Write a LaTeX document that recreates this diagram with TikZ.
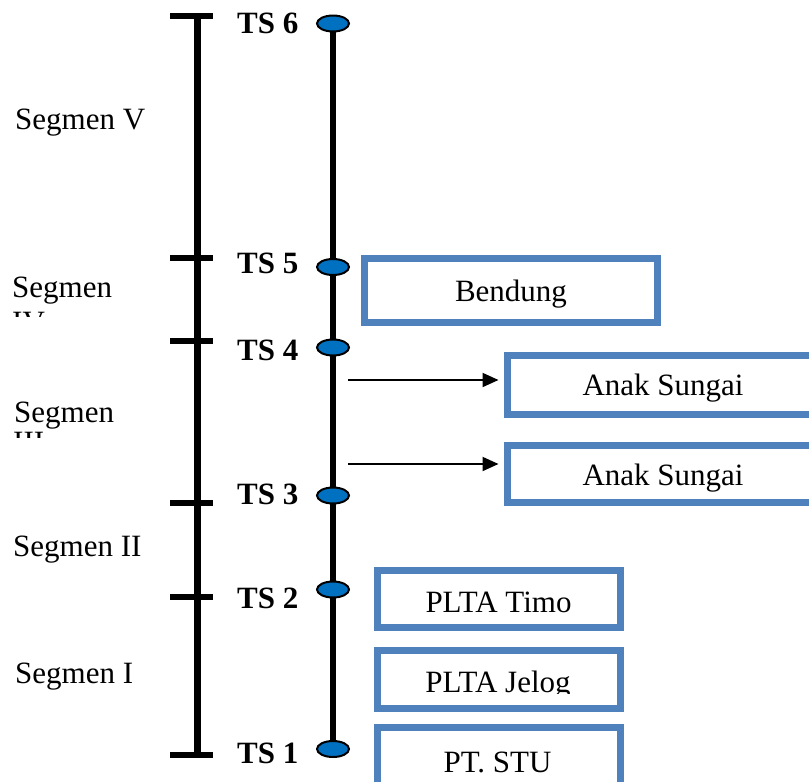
\documentclass[tikz,border=0pt]{standalone}
\usepackage{fontspec}
\setmainfont{Liberation Serif}
\usetikzlibrary{shapes.geometric,arrows.meta}
\definecolor{boxblue}{RGB}{79,129,189}
\definecolor{dotblue}{RGB}{0,112,192}
\begin{document}
\begin{tikzpicture}[x=1pt,y=-1pt,
  axisline/.style={line width=7pt},
  tickline/.style={line width=6pt},
  riverline/.style={line width=6pt},
  dot/.style={ellipse,draw=black,line width=2pt,fill=dotblue,minimum width=32pt,minimum height=16pt,inner sep=0pt},
  tslabel/.style={anchor=base west,font=\fontsize{31}{36}\selectfont\bfseries,inner sep=0pt},
  seglabel/.style={anchor=base west,font=\fontsize{31}{36}\selectfont,inner sep=0pt},
  boxtext/.style={anchor=base,font=\fontsize{31}{36}\selectfont,inner sep=0pt},
  infobox/.style={draw=boxblue,line width=7pt,inner sep=0pt,outer sep=0pt,rectangle},
  flow/.style={line width=2pt,-{Triangle[length=16pt,width=14pt]}}]
\useasboundingbox (0,0) rectangle (809,782);

% left segment axis
\coordinate (L6) at (197.5,15.5);
\coordinate (L5) at (197.5,258);
\coordinate (L4) at (197.5,340.5);
\coordinate (L3) at (197.5,503);
\coordinate (L2) at (197.5,597);
\coordinate (L1) at (197.5,754.5);
\coordinate (Ltop) at (197.5,13);
\coordinate (Lbot) at (197.5,757);
\draw[axisline] (Ltop) -- (Lbot);
\foreach \k in {1,...,6}{
  \draw[tickline] ([xshift=-27.5pt]L\k) -- ([xshift=15.5pt]L\k);
}

% river line with stations
\coordinate (R6) at (333,23.5);
\coordinate (R5) at (333,267);
\coordinate (R4) at (333,347.5);
\coordinate (R3) at (333,495.5);
\coordinate (R2) at (333,589.5);
\coordinate (R1) at (333,749);
\draw[riverline] (R6) -- (R1);
\foreach \k in {1,...,6}{
  \node[dot] (E\k) at (R\k) {};
}

% TS labels
\node[tslabel] (ts6) at (237,33) {TS 6};
\node[tslabel] (ts5) at (237,273) {TS 5};
\node[tslabel] (ts4) at (237,360) {TS 4};
\node[tslabel] (ts3) at (237,504) {TS 3};
\node[tslabel] (ts2) at (237,608) {TS 2};
\node[tslabel] (ts1) at (237,763) {TS 1};

% segment labels
\node[seglabel] (seg5) at (15,129) {Segmen V};
\node[seglabel] (seg4) at (12,297) {Segmen};
\begin{scope}
  \clip (0,309) rectangle (150,316);
  \node[seglabel] (seg4b) at (12,332) {IV};
\end{scope}
\node[seglabel] (seg3) at (14,422) {Segmen};
\begin{scope}
  \clip (0,430) rectangle (150,437);
  \node[seglabel] (seg3b) at (13,452.5) {III};
\end{scope}
\node[seglabel] (seg2) at (13,556) {Segmen II};
\node[seglabel] (seg1) at (15,683) {Segmen I};

% boxes
\node[infobox,minimum width=293pt,minimum height=64pt] (bendung) at (511,290.5) {};
\node[boxtext] (tbendung) at (511,301) {Bendung};

\node[infobox,minimum width=342.5pt,minimum height=59pt] (anak1) at (678.75,384.5) {};
\node[boxtext] (tanak1) at (663,395) {Anak Sungai};

\node[infobox,minimum width=342.5pt,minimum height=57.5pt] (anak2) at (678.75,473.75) {};
\node[boxtext] (tanak2) at (663,485) {Anak Sungai};

\node[infobox,minimum width=242.5pt,minimum height=57.5pt] (timo) at (498.75,598.75) {};
\node[boxtext] (ttimo) at (498.5,612) {PLTA Timo};

\node[infobox,minimum width=242.5pt,minimum height=58pt] (jelog) at (498.75,679) {};
\begin{scope}
  \clip (390,640) rectangle (610,693);
  \node[boxtext] (tjelog) at (498,692) {PLTA Jelog};
\end{scope}

\node[infobox,minimum width=242.5pt,minimum height=80pt] (stu) at (498.75,767.5) {};
\begin{scope}
  \clip (390,735) rectangle (610,773);
  \node[boxtext] (tstu) at (497.5,772) {PT. STU};
\end{scope}

% tributary arrows
\coordinate (a1s) at (348,380);
\coordinate (a2s) at (348,464);
\draw[flow,shorten >=9pt] (a1s) -- (a1s -| anak1.west);
\draw[flow,shorten >=9pt] (a2s) -- (a2s -| anak2.west);
\end{tikzpicture}
\end{document}
